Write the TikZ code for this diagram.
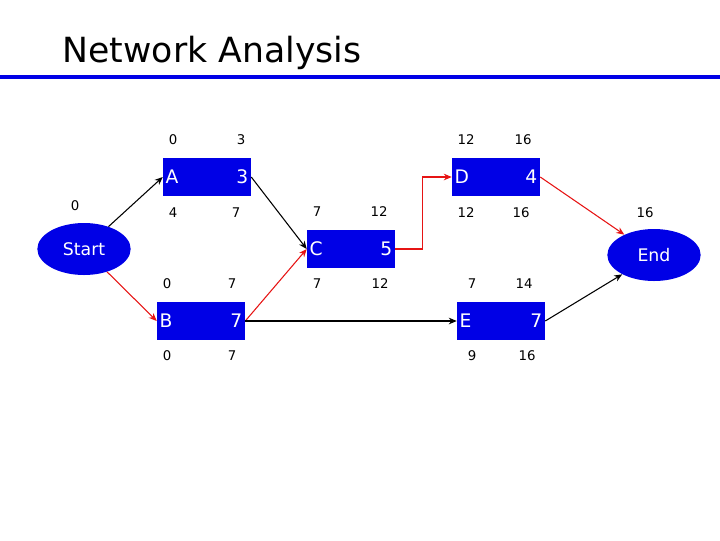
\documentclass[tikz,border=0pt]{standalone}
\usepackage{fontspec}
\setmainfont{DejaVu Sans}
\usetikzlibrary{shapes.geometric,arrows.meta}
\definecolor{boxblue}{RGB}{0, 0, 230}
\definecolor{linered}{RGB}{230, 20, 20}
\tikzset{
  act/.style={draw=none, fill=boxblue, minimum width=66pt, minimum height=29pt, inner sep=0pt},
  ev/.style={ellipse, fill=boxblue, text=white, minimum width=70pt, minimum height=39pt, inner sep=0pt, font=\fontsize{13}{13}\selectfont},
  tag/.style={text=white, inner sep=2pt, font=\fontsize{14}{14}\selectfont},
  num/.style={font=\fontsize{10}{10}\selectfont, inner sep=0pt},
  arr/.style={-{Stealth[length=6pt,width=5pt]}, thick},
  crit/.style={arr, linered}
}
\begin{document}
\begin{tikzpicture}[x=0.75pt, y=-0.75pt]
    \useasboundingbox (0,0) rectangle (720,540);
    % Title
    \node[anchor=west, font=\fontsize{26}{26}\selectfont] (title) at (58,53) {Network Analysis};
    \fill[boxblue] (0,75) rectangle (720,79);

    % Events
    \node[ev] (start) at (84,249) {Start};
    \node[ev] (end) at (654,255) {End};

    % Activities
    \foreach \n/\x/\y/\t in {A/207/177/3, B/201/321/7, C/351/249/5, D/496/177/4, E/501/321/7} {
        \node[act] (\n) at (\x,\y) {};
        \node[tag, anchor=west] (\n l) at (\n.west) {\n};
        \node[tag, anchor=east] (\n t) at (\n.east) {\t};
    }

    % Times
    \foreach \k/\x/\y/\v in {s/75/206/0, e/645/213/16,
        a1/173/140/0, a2/241/140/3, a3/173/213/4, a4/236/213/7,
        b1/167/284/0, b2/232/284/7, b3/167/356/0, b4/232/356/7,
        c1/317/212/7, c2/379/212/12, c3/317/284/7, c4/380/284/12,
        d1/466/140/12, d2/523/140/16, d3/466/213/12, d4/521/213/16,
        e1/472/284/7, e2/524/284/14, e3/472/356/9, e4/527/356/16} {
        \node[num] (n\k) at (\x,\y) {\v};
    }

    % Connectors
    \draw[arr] (start) -- (A.west);
    \draw[crit] (start) -- (B.west);
    \draw[arr] (A.east) -- (C.west);
    \draw[crit] (B.east) -- (C.west);
    \draw[crit] (C.east) -- ++(27pt*0+20.25pt,0) |- (D.west);
    \draw[crit] (D.east) -- (end);
    \draw[arr] (B.east) -- (E.west);
    \draw[arr] (E.east) -- (end);
\end{tikzpicture}
\end{document}
